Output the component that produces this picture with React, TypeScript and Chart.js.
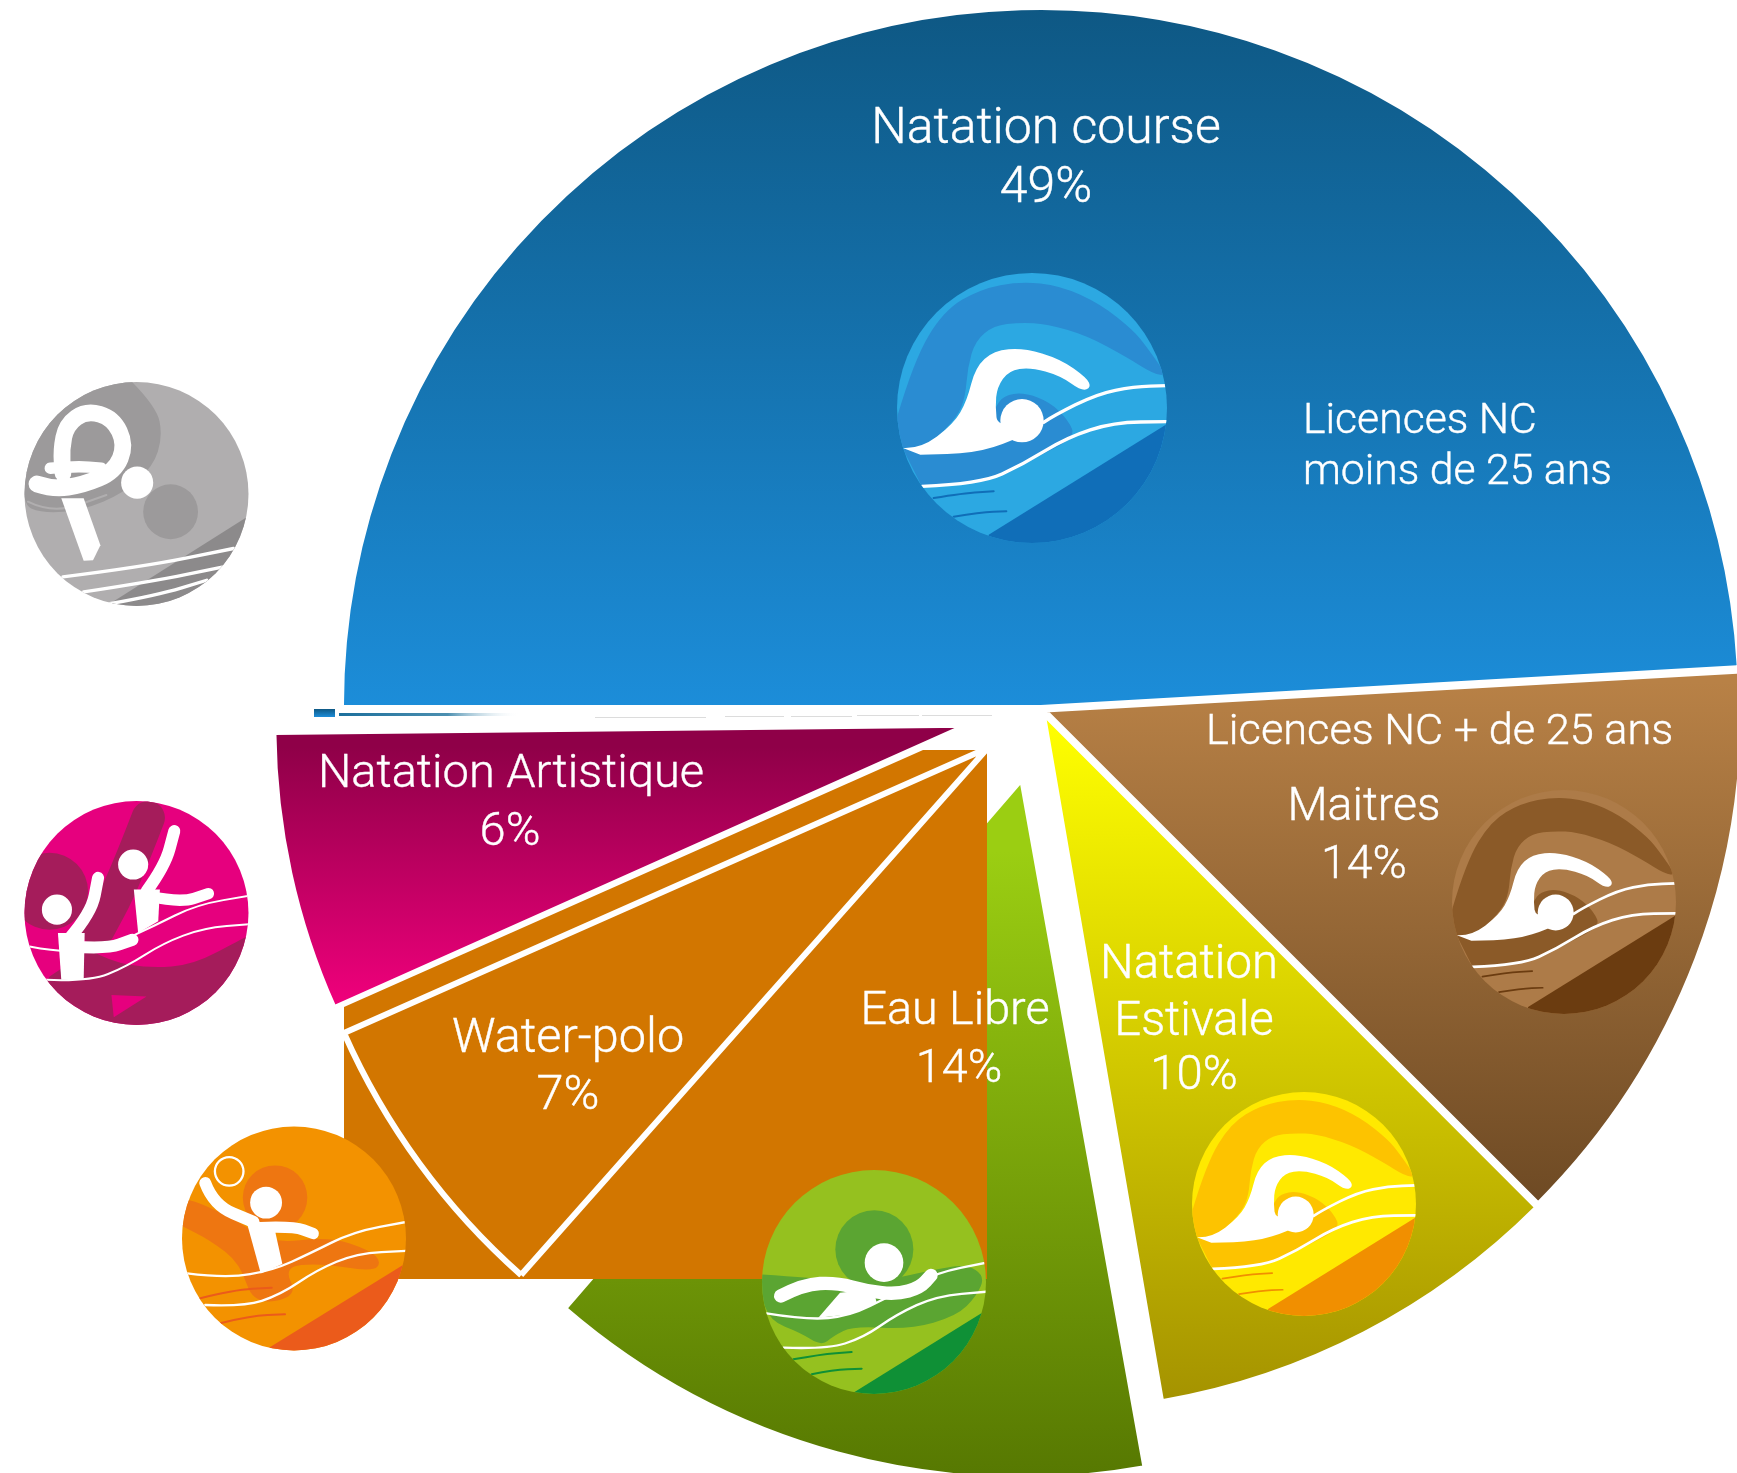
import React, { useEffect, useRef } from "react";
import { Chart, registerables } from "chart.js";

Chart.register(...registerables);

// ---- data ----
const categories = ["Natation course", "Maitres", "Natation Estivale", "Eau Libre", "Water-polo", "Natation Artistique"];
const labelledPercents = [49, 14, 10, 14, 7, 6];
// share of the circle that each slice really occupies in the picture
const drawnShares = [49.1, 13.4, 9.7, 14.2, 7.1, 6.5];

// ---- slice styles ----
const W = 1737, H = 1473, RADIUS = 696;
const sliceShift = [2, 4.5, 6, 74, 66, 78];
const sliceRadius = [699, 697, 697, 698, 704, 692];
const sliceWiden = [0, 0, 0, 0.005, 0, 0.022];
const sliceExtendEnd = [0, 0, 0.006, 0, 0, 0];
const sliceBorder = [4, 4, 4, 4, 6, 4];
const gradients: [number, number, string, string][] = [
  [11, 707, "#0E5884", "#1C8DD9"],
  [680, 1200, "#B88146", "#6E4A24"],
  [715, 1400, "#FFFF00", "#A49200"],
  [780, 1465, "#9BCE12", "#507000"],
  [0, 1, "#D27600", "#D27600"],
  [730, 1005, "#8F0048", "#F6007F"],
];

const FONT = "Roboto";
type TextItem = [string, number, number, number, CanvasTextAlign];
const texts: TextItem[] = [
  ["Natation course", 1046, 130, 50, "center"],
  ["49%", 1046, 189, 50, "center"],
  ["Licences NC", 1303, 422, 42.7, "left"],
  ["moins de 25 ans", 1303, 473, 42.7, "left"],
  ["Licences NC + de 25 ans", 1206, 733, 43.3, "left"],
  ["Maitres", 1364, 808, 46.4, "center"],
  ["14%", 1364, 866, 46.4, "center"],
  ["Natation", 1189, 966, 47.3, "center"],
  ["Estivale", 1194, 1023, 47.3, "center"],
  ["10%", 1194, 1077, 47.3, "center"],
  ["Eau Libre", 955, 1012, 46.7, "center"],
  ["14%", 959, 1070, 46.7, "center"],
  ["Water-polo", 568, 1040, 48.6, "center"],
  ["7%", 568, 1097, 48.6, "center"],
  ["Natation Artistique", 511, 775, 47, "center"],
  ["6%", 510, 833, 47, "center"],
];

type P = [number, number];
function curve(c: CanvasRenderingContext2D, pts: P[], close = false) {
  c.beginPath();
  c.moveTo(pts[0][0], pts[0][1]);
  for (let i = 1; i < pts.length - 1; i++) {
    c.quadraticCurveTo(pts[i][0], pts[i][1], (pts[i][0] + pts[i + 1][0]) / 2, (pts[i][1] + pts[i + 1][1]) / 2);
  }
  c.lineTo(pts[pts.length - 1][0], pts[pts.length - 1][1]);
  if (close) c.closePath();
}
const fillCurve = (c: CanvasRenderingContext2D, pts: P[], col: string) => { curve(c, pts, true); c.fillStyle = col; c.fill(); };
const poly = (c: CanvasRenderingContext2D, pts: P[], col: string) => {
  c.beginPath(); pts.forEach((p, i) => (i ? c.lineTo(p[0], p[1]) : c.moveTo(p[0], p[1]))); c.closePath(); c.fillStyle = col; c.fill();
};
const stroke = (c: CanvasRenderingContext2D, pts: P[], col: string, w: number) => {
  curve(c, pts); c.strokeStyle = col; c.lineWidth = w; c.lineCap = "round"; c.lineJoin = "round"; c.stroke();
};
const disc = (c: CanvasRenderingContext2D, x: number, y: number, r: number, col: string) => {
  c.beginPath(); c.arc(x, y, r, 0, Math.PI * 2); c.fillStyle = col; c.fill();
};

function icon(c: CanvasRenderingContext2D, cx: number, cy: number, R: number, zx: number, zy: number, zr: number, bg: string, art: (c: CanvasRenderingContext2D) => void) {
  c.save();
  c.beginPath(); c.arc(cx, cy, R, 0, Math.PI * 2); c.closePath(); c.clip();
  c.translate(cx, cy); c.scale(R / zr, R / zr); c.translate(-zx, -zy);
  c.fillStyle = bg; c.fillRect(zx - zr - 5, zy - zr - 5, 2 * zr + 10, 2 * zr + 10);
  art(c);
  c.restore();
}

const swimmer = (light: string, mid: string, dark: string) => (c: CanvasRenderingContext2D) => {
  fillCurve(c, [[50, 470], [100, 300], [190, 150], [300, 85], [420, 62], [540, 75], [660, 130], [760, 210], [800, 260], [860, 345], [820, 340], [740, 290], [620, 225], [500, 190], [420, 185], [340, 195], [285, 240], [262, 320], [255, 410], [230, 470], [160, 540], [120, 565], [50, 560]], mid);
  fillCurve(c, [[68, 565], [280, 575], [345, 440], [370, 405], [430, 395], [510, 425], [565, 480], [585, 530], [470, 590], [330, 660], [125, 678]], mid);
  poly(c, [[325, 822], [860, 490], [900, 900], [325, 900]], dark);
  stroke(c, [[160, 712], [250, 697], [340, 692]], dark, 6);
  stroke(c, [[220, 768], [300, 755], [378, 752]], dark, 6);
  stroke(c, [[490, 485], [520, 465], [650, 400], [760, 378], [860, 375]], "#fff", 10);
  stroke(c, [[125, 677], [300, 670], [430, 610], [560, 530], [700, 485], [860, 483]], "#fff", 10);
  disc(c, 425, 480, 65, "#fff");
  fillCurve(c, [[68, 562], [120, 565], [220, 490], [260, 420], [285, 320], [340, 270], [430, 262], [540, 295], [620, 352], [632, 380], [605, 392], [540, 345], [450, 320], [385, 330], [350, 380], [345, 440], [352, 500], [495, 485], [400, 540], [280, 578], [120, 582]], "#fff");
};

const diver = (c: CanvasRenderingContext2D) => {
  fillCurve(c, [[360, 30], [440, 110], [458, 200], [430, 290], [340, 370], [220, 420], [100, 430], [30, 400], [30, 30]], "#9C9A9B");
  disc(c, 482, 425, 82, "#9C9A9B");
  poly(c, [[300, 700], [720, 435], [720, 720], [300, 720]], "#8C8A8B");
  stroke(c, [[55, 395], [130, 432], [290, 375]], "#B0AEAF", 6);
  stroke(c, [[160, 620], [400, 590], [670, 535]], "#fff", 10);
  stroke(c, [[222, 665], [420, 635], [640, 590]], "#fff", 10);
  stroke(c, [[300, 700], [440, 675], [590, 630]], "#fff", 10);
  stroke(c, [[82, 342], [130, 358], [220, 345], [315, 305], [348, 225], [310, 145], [230, 122], [170, 165], [155, 240], [160, 310]], "#fff", 50);
  stroke(c, [[122, 295], [200, 288], [275, 295]], "#fff", 34);
  poly(c, [[155, 385], [222, 385], [272, 525], [250, 570], [222, 572]], "#fff");
  disc(c, 382, 338, 48, "#fff");
};

const artistic = (c: CanvasRenderingContext2D) => {
  disc(c, 120, 305, 115, "#A51C5B");
  stroke(c, [[415, 85], [340, 280], [265, 420]], "#A51C5B", 100);
  fillCurve(c, [[240, 480], [300, 515], [420, 535], [550, 525], [690, 450], [730, 430], [730, 730], [30, 730], [120, 560]], "#A51C5B");
  poly(c, [[305, 615], [410, 620], [312, 682]], "#E6007E");
  stroke(c, [[60, 470], [160, 490], [300, 470], [430, 410], [560, 345], [720, 318]], "#fff", 6);
  stroke(c, [[110, 570], [240, 575], [350, 530], [460, 460], [580, 415], [720, 403]], "#fff", 6);
  disc(c, 142, 360, 45, "#fff");
  disc(c, 370, 225, 45, "#fff");
  poly(c, [[145, 430], [225, 430], [222, 568], [155, 570]], "#fff");
  stroke(c, [[180, 445], [245, 370], [265, 265]], "#fff", 36);
  stroke(c, [[185, 470], [290, 478], [368, 450]], "#fff", 36);
  poly(c, [[372, 300], [450, 300], [445, 395], [385, 430]], "#fff");
  stroke(c, [[410, 305], [465, 230], [493, 125]], "#fff", 36);
  stroke(c, [[420, 320], [510, 340], [595, 312]], "#fff", 34);
};

const waterpolo = (c: CanvasRenderingContext2D) => {
  disc(c, 315, 262, 97, "#EE7611");
  fillCurve(c, [[30, 265], [60, 265], [200, 330], [300, 400], [480, 380], [600, 420], [635, 455], [610, 485], [450, 460], [340, 470], [385, 560], [250, 585], [210, 460], [120, 390], [30, 345]], "#EE7611");
  poly(c, [[298, 713], [700, 465], [730, 730], [298, 735]], "#EB5B1B");
  c.beginPath(); c.arc(177, 183, 43, 0, Math.PI * 2); c.strokeStyle = "#fff"; c.lineWidth = 7; c.stroke();
  stroke(c, [[90, 565], [190, 540], [305, 533]], "#EB5B1B", 6);
  stroke(c, [[150, 640], [240, 618], [345, 613]], "#EB5B1B", 6);
  stroke(c, [[50, 490], [170, 505], [310, 480], [420, 430], [550, 365], [710, 335]], "#fff", 7);
  stroke(c, [[105, 585], [220, 590], [330, 555], [440, 480], [560, 430], [710, 422]], "#fff", 7);
  disc(c, 288, 277, 48, "#fff");
  poly(c, [[228, 330], [310, 340], [337, 462], [272, 490]], "#fff");
  stroke(c, [[105, 218], [130, 285], [250, 335]], "#fff", 36);
  stroke(c, [[270, 352], [370, 348], [430, 370]], "#fff", 34);
};

const openwater = (c: CanvasRenderingContext2D) => {
  disc(c, 373, 270, 117, "#5BA532");
  fillCurve(c, [[30, 345], [190, 355], [350, 375], [560, 330], [650, 315], [705, 350], [680, 410], [620, 470], [480, 510], [310, 500], [250, 530], [215, 560], [150, 520], [60, 485], [30, 400]], "#5BA532");
  poly(c, [[310, 700], [700, 458], [730, 730], [310, 730]], "#0F9036");
  stroke(c, [[130, 600], [210, 585], [305, 578]], "#0F9036", 6);
  stroke(c, [[185, 645], [250, 632], [335, 628]], "#0F9036", 6);
  stroke(c, [[50, 462], [170, 482], [300, 470], [420, 410], [560, 340], [710, 310]], "#fff", 7);
  stroke(c, [[100, 565], [230, 570], [340, 535], [440, 465], [560, 410], [710, 397]], "#fff", 7);
  disc(c, 402, 310, 58, "#fff");
  poly(c, [[205, 475], [270, 400], [370, 390], [380, 430], [300, 465]], "#fff");
  stroke(c, [[92, 410], [160, 375], [260, 370], [350, 395], [440, 405], [510, 385], [543, 348]], "#fff", 40);
};

const chartDressing = {
  id: "chartDressing",
  afterDatasetsUpdate(chart: any) {
    chart.getDatasetMeta(0).data.forEach((arc: any, i: number) => {
      const fix = 1 - Math.sin(Math.min(Math.PI, arc.circumference));
      arc.outerRadius = sliceRadius[i] - sliceShift[i] * fix;
      arc.startAngle -= sliceWiden[i];
      arc.endAngle += sliceExtendEnd[i];
      arc.circumference += sliceWiden[i] + sliceExtendEnd[i];
    });
  },
  afterDatasetsDraw(chart: any) {
    const c: CanvasRenderingContext2D = chart.ctx;
    c.save();
    // the rectangular picture crop that sits behind the water-polo slice
    poly(c, [[923, 750], [987, 750], [987, 1279], [344, 1279], [344, 1007]], "#D27600");
    chart.getDatasetMeta(0).data[4].draw(c);
    // stray slide fragments under the blue slice
    const g = c.createLinearGradient(339, 0, 520, 0);
    g.addColorStop(0, "#1C6F9C"); g.addColorStop(0.6, "#4C8FB0"); g.addColorStop(1, "rgba(255,255,255,0)");
    c.fillStyle = g; c.fillRect(339, 713, 181, 3);
    const g2 = c.createLinearGradient(0, 709, 0, 717);
    g2.addColorStop(0, "#0E5884"); g2.addColorStop(1, "#1C8DD9");
    c.fillStyle = g2; c.fillRect(314, 709, 21, 8);
    c.fillStyle = "#dcdcdc";
    [[595, 111, 717], [725, 59, 716], [791, 61, 716], [857, 62, 715], [922, 70, 715]].forEach(([x, w, y]) => c.fillRect(x, y, w, 1));
    // discipline pictograms
    icon(c, 1032, 408, 135, 455, 442, 405, "#2CA8E2", swimmer("#2CA8E2", "#2A8CD2", "#106EB8"));
    icon(c, 136.5, 494, 112, 380, 372, 335, "#B0AEAF", diver);
    icon(c, 136.5, 913, 112, 380, 370, 335, "#E6007E", artistic);
    icon(c, 294, 1238.5, 112, 372, 385, 337, "#F39200", waterpolo);
    icon(c, 874, 1282, 112, 372, 368, 336, "#95C11F", openwater);
    icon(c, 1304, 1204, 112, 455, 442, 405, "#FFE900", swimmer("#FFE900", "#FDC300", "#F18F00"));
    icon(c, 1564, 902, 112, 455, 442, 405, "#AD7B48", swimmer("#AD7B48", "#8B5A28", "#6B3C10"));
    // labels
    c.fillStyle = "#fff";
    c.strokeStyle = "#fff";
    c.lineWidth = 0.4;
    c.textBaseline = "middle";
    texts.forEach(([t, x, y, size, align]) => {
      c.font = `300 ${size}px ${FONT}`;
      c.textAlign = align;
      c.fillText(t, x, y);
      c.strokeText(t, x, y);
    });
    c.restore();
  },
};

export default function App() {
  const ref = useRef<HTMLCanvasElement>(null);
  useEffect(() => {
    const canvas = ref.current!;
    const ctx = canvas.getContext("2d")!;
    const fills = gradients.map(([y0, y1, a, b]) => {
      const g = ctx.createLinearGradient(0, y0, 0, y1);
      g.addColorStop(0, a); g.addColorStop(1, b);
      return g;
    });
    const chart = new Chart(canvas, {
      type: "pie",
      plugins: [chartDressing],
      data: {
        labels: categories.map((n, i) => `${n} ${labelledPercents[i]}%`),
        datasets: [{
          data: drawnShares,
          backgroundColor: fills,
          borderColor: "#ffffff",
          borderWidth: sliceBorder,
          offset: sliceShift.map((d) => d * 4),
        }],
      },
      options: {
        responsive: false,
        animation: false,
        rotation: -90,
        radius: RADIUS,
        layout: { padding: { left: 345, right: 0, top: 0, bottom: 55 } },
        plugins: { legend: { display: false }, tooltip: { enabled: false }, title: { display: false } },
      } as any,
    });
    return () => chart.destroy();
  }, []);
  return (
    <canvas
      ref={ref}
      width={W}
      height={H}
      style={{ position: "absolute", left: 0, top: 0, display: "block", width: W, height: H }}
    />
  );
}
